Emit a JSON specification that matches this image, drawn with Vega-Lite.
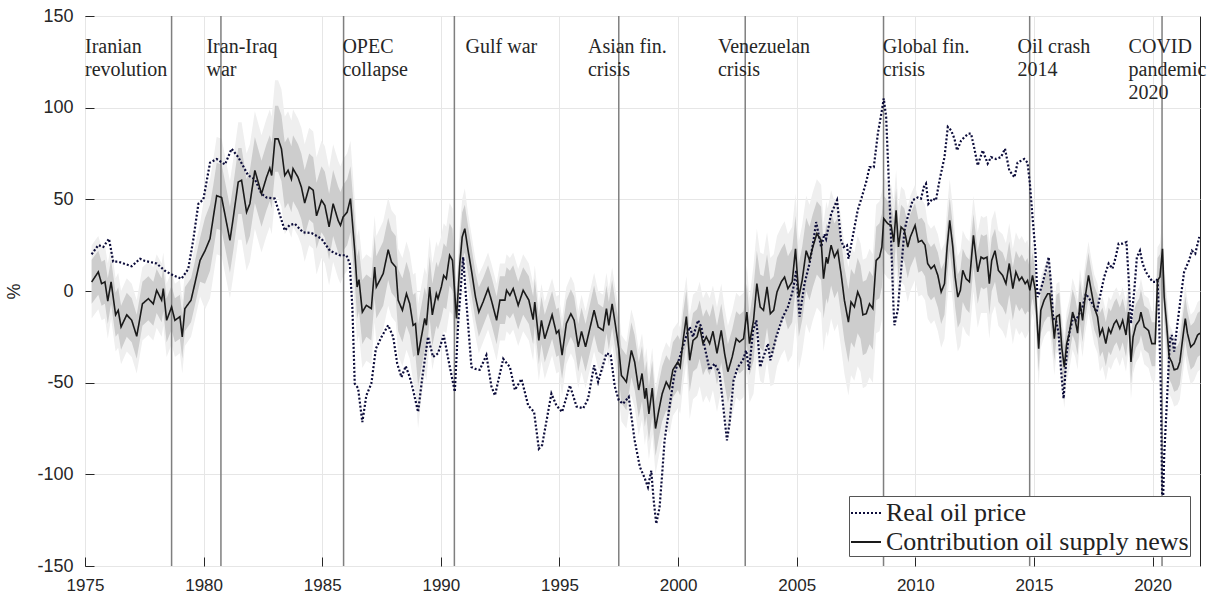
{
"$schema": "https://vega.github.io/schema/vega-lite/v6.json",
"width": 1115, "height": 550,
"autosize": {"type": "none"},
"padding": {"left": 85, "top": 16, "right": 18, "bottom": 28},
"background": "white",
"config": {
 "view": {"stroke": "#262626", "strokeWidth": 1},
 "axis": {"labelFont": "Liberation Sans", "labelFontSize": 18, "labelColor": "#262626", "titleFont": "Liberation Sans", "titleFontSize": 18, "titleFontWeight": "normal", "titleColor": "#262626", "grid": true, "gridColor": "#e6e6e6", "gridWidth": 1, "domain": false, "tickColor": "#262626", "tickSize": -9, "tickWidth": 1},
 "axisX": {"tickCount": 10, "format": "d", "labelPadding": 20, "labelFontSize": 17, "labelFlush": false},
 "axisY": {"tickCount": 6, "labelPadding": 21, "titleX": -62, "titlePadding": 0, "labelExpr": "'' + datum.value"}
},
"datasets": {
"events": [{"t":1978.65},{"t":1980.73},{"t":1985.9},{"t":1990.57},{"t":1997.5},{"t":2002.83},{"t":2008.66},{"t":2014.82},{"t":2020.4}],
"labels": [{"lx":1975.0,"txt":"Iranian\nrevolution"},{"lx":1980.12,"txt":"Iran-Iraq\nwar"},{"lx":1985.85,"txt":"OPEC\ncollapse"},{"lx":1991.04,"txt":"Gulf war"},{"lx":1996.2,"txt":"Asian fin.\ncrisis"},{"lx":2001.68,"txt":"Venezuelan\ncrisis"},{"lx":2008.63,"txt":"Global fin.\ncrisis"},{"lx":2014.31,"txt":"Oil crash\n2014"},{"lx":2018.99,"txt":"COVID\npandemic\n2020"}],
"price": [
{"t":1975.28,"p":20},{"t":1975.56,"p":25},{"t":1975.77,"p":24},{"t":1976.01,"p":28.5},{"t":1976.19,"p":16},{"t":1976.4,"p":16},{"t":1976.97,"p":13.5},{"t":1977.32,"p":17.6},{"t":1977.53,"p":16.4},{"t":1978.02,"p":15},{"t":1978.37,"p":11},{"t":1978.72,"p":8.5},{"t":1979.07,"p":6.7},{"t":1979.35,"p":12},{"t":1979.56,"p":27.6},{"t":1979.78,"p":47.6},{"t":1979.99,"p":50},{"t":1980.27,"p":70},{"t":1980.55,"p":72},{"t":1980.9,"p":69},{"t":1981.18,"p":77.6},{"t":1981.46,"p":73},{"t":1981.88,"p":63},{"t":1982.16,"p":61},{"t":1982.44,"p":53},{"t":1982.65,"p":51},{"t":1983.0,"p":50.4},
{"t":1983.42,"p":33},{"t":1983.63,"p":36},{"t":1983.84,"p":36.7},{"t":1984.19,"p":32},{"t":1984.55,"p":31.6},{"t":1984.97,"p":28.5},{"t":1985.32,"p":22},{"t":1985.74,"p":19.5},{"t":1986.02,"p":19.5},{"t":1986.16,"p":15},{"t":1986.27,"p":-8.7},{"t":1986.37,"p":-50.5},{"t":1986.51,"p":-53},{"t":1986.69,"p":-71.5},{"t":1986.86,"p":-57},{"t":1987.07,"p":-50.5},{"t":1987.26,"p":-31.5},{"t":1987.5,"p":-25},{"t":1987.78,"p":-18.7},{"t":1987.99,"p":-25},{"t":1988.16,"p":-39.6},{"t":1988.34,"p":-47},{"t":1988.52,"p":-41},{"t":1988.69,"p":-47},{"t":1988.83,"p":-54},{"t":1989.04,"p":-66},{"t":1989.22,"p":-47},{"t":1989.46,"p":-25},{"t":1989.67,"p":-36},{"t":1989.88,"p":-34},{"t":1990.12,"p":-24},{"t":1990.35,"p":-39.6},{"t":1990.59,"p":-55},
{"t":1990.73,"p":-17.8},{"t":1990.94,"p":18.5},{"t":1991.08,"p":-7},{"t":1991.29,"p":-41.5},{"t":1991.43,"p":-42.4},{"t":1991.64,"p":-43},{"t":1991.92,"p":-35},{"t":1992.13,"p":-52},{"t":1992.28,"p":-57},{"t":1992.63,"p":-37},{"t":1992.91,"p":-41.5},{"t":1993.12,"p":-54},{"t":1993.4,"p":-48},{"t":1993.68,"p":-62.4},{"t":1993.93,"p":-66},{"t":1994.13,"p":-86},{"t":1994.27,"p":-84},{"t":1994.66,"p":-56},{"t":1994.87,"p":-62.4},{"t":1995.11,"p":-66},{"t":1995.44,"p":-51.5},{"t":1995.72,"p":-63},{"t":1996.0,"p":-64},{"t":1996.21,"p":-58.7},{"t":1996.46,"p":-40.5},{"t":1996.63,"p":-49.6},{"t":1996.98,"p":-34},{"t":1997.16,"p":-35},{"t":1997.33,"p":-52},{"t":1997.5,"p":-59.6},{"t":1997.68,"p":-61.5},{"t":1997.92,"p":-57.8},{"t":1998.17,"p":-81.5},{"t":1998.39,"p":-96},{"t":1998.59,"p":-102},
{"t":1998.73,"p":-107},{"t":1998.87,"p":-98},{"t":1998.97,"p":-114},{"t":1999.08,"p":-127},{"t":1999.22,"p":-118},{"t":1999.33,"p":-99.6},{"t":1999.43,"p":-81.5},{"t":1999.64,"p":-63},{"t":1999.85,"p":-45},{"t":2000.07,"p":-36},{"t":2000.28,"p":-27},{"t":2000.49,"p":-19.6},{"t":2000.63,"p":-25},{"t":2000.84,"p":-16},{"t":2000.98,"p":-19.6},{"t":2001.12,"p":-30.5},{"t":2001.33,"p":-43},{"t":2001.54,"p":-39.6},{"t":2001.75,"p":-45},{"t":2001.92,"p":-65},{"t":2002.06,"p":-81.5},{"t":2002.17,"p":-72},{"t":2002.34,"p":-48.7},{"t":2002.52,"p":-41.5},{"t":2002.73,"p":-37.8},{"t":2002.87,"p":-32.4},{"t":2002.99,"p":-43},{"t":2003.16,"p":-21.5},{"t":2003.3,"p":-16},{"t":2003.46,"p":-41.5},{"t":2003.65,"p":-34},{"t":2003.79,"p":-28.7},{"t":2003.89,"p":-37.8},{"t":2004.14,"p":-25},{"t":2004.42,"p":-14},{"t":2004.63,"p":-8.7},{"t":2004.84,"p":0.4},{"t":2004.98,"p":11.3},{"t":2005.12,"p":-14},{"t":2005.33,"p":4},{"t":2005.54,"p":15},{"t":2005.71,"p":27.6},{"t":2005.82,"p":37.6},{"t":2006.03,"p":24},{"t":2006.17,"p":31},
{"t":2006.24,"p":28.5},{"t":2006.45,"p":42},{"t":2006.7,"p":49.5},{"t":2006.87,"p":27.6},{"t":2006.98,"p":24},{"t":2007.12,"p":25},{"t":2007.18,"p":17.6},{"t":2007.36,"p":29.5},{"t":2007.57,"p":44},{"t":2007.74,"p":51},{"t":2007.93,"p":59.5},{"t":2008.07,"p":67.6},{"t":2008.25,"p":67.6},{"t":2008.42,"p":85.8},{"t":2008.59,"p":98.5},{"t":2008.67,"p":105},{"t":2008.77,"p":95},{"t":2008.87,"p":64},{"t":2008.98,"p":27.6},{"t":2009.08,"p":-8.7},{"t":2009.12,"p":-18.7},{"t":2009.26,"p":-10.5},{"t":2009.4,"p":11.3},{"t":2009.54,"p":33},{"t":2009.68,"p":40.4},{"t":2009.89,"p":49.5},{"t":2010.1,"p":51},{"t":2010.24,"p":50.4},{"t":2010.36,"p":56.7},{"t":2010.45,"p":58.5},{"t":2010.55,"p":47.6},{"t":2010.73,"p":50.4},{"t":2010.87,"p":49.5},{"t":2011.02,"p":60.4},{"t":2011.23,"p":73},{"t":2011.37,"p":89.5},{"t":2011.51,"p":87.6},{"t":2011.65,"p":83},{"t":2011.76,"p":76.7},{"t":2011.93,"p":82},{"t":2012.07,"p":84},{"t":2012.24,"p":85.8},{"t":2012.35,"p":85.8},{"t":2012.49,"p":77.6},{"t":2012.63,"p":68.5},{"t":2012.84,"p":76.7},{"t":2013.05,"p":69.5},{"t":2013.19,"p":73},{"t":2013.4,"p":72},{"t":2013.61,"p":73},{"t":2013.78,"p":77.6},{"t":2013.96,"p":65.8},{"t":2014.18,"p":62},
{"t":2014.31,"p":70},{"t":2014.59,"p":72},{"t":2014.73,"p":70},{"t":2014.83,"p":58.5},{"t":2014.94,"p":40.4},{"t":2015.06,"p":22},{"t":2015.15,"p":-3.3},{"t":2015.25,"p":-0.5},{"t":2015.36,"p":4},{"t":2015.5,"p":11.3},{"t":2015.62,"p":18.5},{"t":2015.72,"p":4},{"t":2015.81,"p":-15},{"t":2015.93,"p":-16},{"t":2016.04,"p":-23},{"t":2016.14,"p":-43},{"t":2016.25,"p":-58.7},{"t":2016.38,"p":-34},{"t":2016.49,"p":-23},{"t":2016.66,"p":-14},{"t":2016.77,"p":-16},{"t":2016.91,"p":-12.4},{"t":2017.05,"p":-8.7},{"t":2017.19,"p":-1.5},{"t":2017.33,"p":-4.2},{"t":2017.47,"p":-7},{"t":2017.64,"p":-11.5},{"t":2017.78,"p":-3.3},{"t":2017.96,"p":7.6},{"t":2018.15,"p":15},{"t":2018.31,"p":12.2},{"t":2018.43,"p":17.6},{"t":2018.57,"p":25.8},{"t":2018.74,"p":25.8},{"t":2018.9,"p":26.7},{"t":2018.99,"p":7.6},{"t":2019.09,"p":-17.8},{"t":2019.23,"p":0.4},{"t":2019.34,"p":18.5},{"t":2019.47,"p":22},{"t":2019.58,"p":15},{"t":2019.72,"p":10.4},{"t":2019.86,"p":7.6},{"t":2020.0,"p":5},{"t":2020.14,"p":5},{"t":2020.21,"p":6.7},{"t":2020.28,"p":-17.8},{"t":2020.35,"p":-54},{"t":2020.42,"p":-128},{"t":2020.49,"p":-90},{"t":2020.63,"p":-54},{"t":2020.73,"p":-27},{"t":2020.81,"p":-24},{"t":2020.91,"p":-33},{"t":2021.05,"p":-17.8},{"t":2021.19,"p":-3.3},{"t":2021.33,"p":10.4},{"t":2021.54,"p":16.7},{"t":2021.66,"p":22},{"t":2021.8,"p":20.4},{"t":2021.97,"p":29.5}
],
"contrib": [
{"t":1975.28,"c":4.9,"l9":-15,"l6":-7,"h6":17,"h9":25},
{"t":1975.56,"c":10.4,"l9":-10,"l6":-2,"h6":22,"h9":30},
{"t":1975.7,"c":4,"l9":-16,"l6":-8,"h6":16,"h9":24},
{"t":1975.84,"c":5,"l9":-15,"l6":-7,"h6":17,"h9":25},
{"t":1975.96,"c":-5.5,"l9":-26,"l6":-18,"h6":7,"h9":15},
{"t":1976.1,"c":5,"l9":-15,"l6":-7,"h6":17,"h9":25},
{"t":1976.29,"c":-13,"l9":-33,"l6":-25,"h6":-1,"h9":7},
{"t":1976.4,"c":-10.5,"l9":-31,"l6":-23,"h6":2,"h9":10},
{"t":1976.52,"c":-19.6,"l9":-40,"l6":-32,"h6":-8,"h9":0},
{"t":1976.76,"c":-13,"l9":-33,"l6":-25,"h6":-1,"h9":7},
{"t":1976.97,"c":-16,"l9":-36,"l6":-28,"h6":-4,"h9":4},
{"t":1977.18,"c":-24.7,"l9":-45,"l6":-37,"h6":-13,"h9":-5},
{"t":1977.42,"c":-7,"l9":-27,"l6":-19,"h6":5,"h9":13},
{"t":1977.67,"c":-4.2,"l9":-24,"l6":-16,"h6":8,"h9":16},
{"t":1977.88,"c":-7,"l9":-27,"l6":-19,"h6":5,"h9":13},
{"t":1978.02,"c":0.4,"l9":-20,"l6":-12,"h6":12,"h9":20},
{"t":1978.23,"c":-5,"l9":-25,"l6":-17,"h6":7,"h9":15},
{"t":1978.3,"c":1.3,"l9":-19,"l6":-11,"h6":13,"h9":21},
{"t":1978.44,"c":-16,"l9":-36,"l6":-28,"h6":-4,"h9":4},
{"t":1978.65,"c":-8.7,"l9":-29,"l6":-21,"h6":3,"h9":11},
{"t":1978.79,"c":-16,"l9":-36,"l6":-28,"h6":-4,"h9":4},
{"t":1979.0,"c":-14,"l9":-34,"l6":-26,"h6":-2,"h9":6},
{"t":1979.1,"c":-25,"l9":-45,"l6":-37,"h6":-13,"h9":-5},
{"t":1979.21,"c":-9.6,"l9":-30,"l6":-22,"h6":2,"h9":10},
{"t":1979.47,"c":-5,"l9":-25,"l6":-17,"h6":7,"h9":15},
{"t":1979.63,"c":4,"l9":-16,"l6":-8,"h6":16,"h9":24},
{"t":1979.85,"c":16.7,"l9":-3,"l6":5,"h6":29,"h9":37},
{"t":1980.06,"c":22,"l9":-10,"l6":4,"h6":40,"h9":54},
{"t":1980.27,"c":28.5,"l9":-4,"l6":11,"h6":47,"h9":61},
{"t":1980.41,"c":40.4,"l9":8,"l6":22,"h6":58,"h9":72},
{"t":1980.55,"c":52,"l9":20,"l6":34,"h6":70,"h9":84},
{"t":1980.76,"c":51,"l9":19,"l6":33,"h6":69,"h9":83},
{"t":1981.11,"c":27.6,"l9":-4,"l6":10,"h6":46,"h9":60},
{"t":1981.25,"c":40,"l9":8,"l6":22,"h6":58,"h9":72},
{"t":1981.46,"c":59.5,"l9":28,"l6":42,"h6":78,"h9":92},
{"t":1981.6,"c":60.4,"l9":28,"l6":42,"h6":78,"h9":92},
{"t":1981.81,"c":43,"l9":11,"l6":25,"h6":61,"h9":75},
{"t":1981.95,"c":47.6,"l9":16,"l6":30,"h6":66,"h9":80},
{"t":1982.16,"c":65.8,"l9":34,"l6":48,"h6":84,"h9":98},
{"t":1982.44,"c":53,"l9":21,"l6":35,"h6":71,"h9":85},
{"t":1982.65,"c":62,"l9":30,"l6":44,"h6":80,"h9":94},
{"t":1982.79,"c":67,"l9":35,"l6":49,"h6":85,"h9":99},
{"t":1982.87,"c":63,"l9":31,"l6":45,"h6":81,"h9":95},
{"t":1983.01,"c":83,"l9":51,"l6":65,"h6":101,"h9":115},
{"t":1983.14,"c":83,"l9":51,"l6":65,"h6":101,"h9":115},
{"t":1983.28,"c":77.6,"l9":46,"l6":60,"h6":96,"h9":110},
{"t":1983.42,"c":63,"l9":31,"l6":45,"h6":81,"h9":95},
{"t":1983.56,"c":65.8,"l9":34,"l6":48,"h6":84,"h9":98},
{"t":1983.7,"c":61,"l9":29,"l6":43,"h6":79,"h9":93},
{"t":1983.77,"c":66.7,"l9":35,"l6":49,"h6":85,"h9":99},
{"t":1983.98,"c":62,"l9":30,"l6":44,"h6":80,"h9":94},
{"t":1984.12,"c":56.7,"l9":25,"l6":39,"h6":75,"h9":89},
{"t":1984.26,"c":48,"l9":16,"l6":30,"h6":66,"h9":80},
{"t":1984.45,"c":56.7,"l9":25,"l6":39,"h6":75,"h9":89},
{"t":1984.62,"c":55,"l9":23,"l6":37,"h6":73,"h9":87},
{"t":1984.76,"c":41,"l9":9,"l6":23,"h6":59,"h9":73},
{"t":1984.97,"c":49.5,"l9":18,"l6":32,"h6":68,"h9":82},
{"t":1985.11,"c":46.7,"l9":15,"l6":29,"h6":65,"h9":79},
{"t":1985.29,"c":35,"l9":3,"l6":17,"h6":53,"h9":67},
{"t":1985.46,"c":47.6,"l9":16,"l6":30,"h6":66,"h9":80},
{"t":1985.67,"c":38.5,"l9":7,"l6":21,"h6":57,"h9":71},
{"t":1985.77,"c":35.8,"l9":4,"l6":18,"h6":54,"h9":68},
{"t":1985.88,"c":40.4,"l9":8,"l6":22,"h6":58,"h9":72},
{"t":1986.05,"c":43,"l9":11,"l6":25,"h6":61,"h9":75},
{"t":1986.19,"c":50.4,"l9":18,"l6":32,"h6":68,"h9":82},
{"t":1986.37,"c":22,"l9":-8,"l6":5,"h6":39,"h9":50},
{"t":1986.47,"c":2.2,"l9":-28,"l6":-15,"h6":19,"h9":30},
{"t":1986.55,"c":6.2,"l9":-24,"l6":-11,"h6":23,"h9":34},
{"t":1986.69,"c":-11.5,"l9":-42,"l6":-29,"h6":6,"h9":17},
{"t":1986.86,"c":-7.8,"l9":-38,"l6":-25,"h6":9,"h9":20},
{"t":1987.07,"c":-9.6,"l9":-40,"l6":-27,"h6":7,"h9":18},
{"t":1987.21,"c":13,"l9":-17,"l6":-4,"h6":30,"h9":41},
{"t":1987.28,"c":2.2,"l9":-28,"l6":-15,"h6":19,"h9":30},
{"t":1987.57,"c":9.5,"l9":-21,"l6":-8,"h6":27,"h9":38},
{"t":1987.78,"c":22.5,"l9":-8,"l6":6,"h6":40,"h9":51},
{"t":1987.92,"c":15.8,"l9":-14,"l6":-1,"h6":33,"h9":44},
{"t":1988.1,"c":13,"l9":-17,"l6":-4,"h6":30,"h9":41},
{"t":1988.2,"c":-5,"l9":-35,"l6":-22,"h6":12,"h9":23},
{"t":1988.38,"c":-10.5,"l9":-41,"l6":-28,"h6":7,"h9":18},
{"t":1988.55,"c":-1.5,"l9":-32,"l6":-19,"h6":16,"h9":27},
{"t":1988.69,"c":-7,"l9":-37,"l6":-24,"h6":10,"h9":21},
{"t":1988.83,"c":-18.7,"l9":-49,"l6":-36,"h6":-2,"h9":9},
{"t":1988.93,"c":-17.8,"l9":-55,"l6":-35,"h6":-1,"h9":10},
{"t":1989.04,"c":-35,"l9":-75,"l6":-52,"h6":-18,"h9":-7},
{"t":1989.18,"c":-25,"l9":-58,"l6":-42,"h6":-8,"h9":3},
{"t":1989.32,"c":-15,"l9":-45,"l6":-32,"h6":2,"h9":13},
{"t":1989.39,"c":-18.7,"l9":-49,"l6":-36,"h6":-2,"h9":9},
{"t":1989.53,"c":2.2,"l9":-28,"l6":-15,"h6":19,"h9":30},
{"t":1989.64,"c":-13,"l9":-43,"l6":-30,"h6":4,"h9":15},
{"t":1989.81,"c":-1.5,"l9":-32,"l6":-19,"h6":16,"h9":27},
{"t":1989.88,"c":-4.2,"l9":-34,"l6":-21,"h6":13,"h9":24},
{"t":1990.02,"c":2.2,"l9":-28,"l6":-15,"h6":19,"h9":30},
{"t":1990.12,"c":8.5,"l9":-22,"l6":-9,"h6":26,"h9":37},
{"t":1990.23,"c":6.7,"l9":-23,"l6":-10,"h6":24,"h9":35},
{"t":1990.37,"c":19.5,"l9":-11,"l6":3,"h6":37,"h9":48},
{"t":1990.49,"c":16.7,"l9":-13,"l6":0,"h6":34,"h9":45},
{"t":1990.66,"c":-15,"l9":-37,"l6":-28,"h6":-2,"h9":5},
{"t":1990.8,"c":15,"l9":-7,"l6":2,"h6":28,"h9":35},
{"t":1990.9,"c":29.5,"l9":8,"l6":17,"h6":43,"h9":50},
{"t":1991.01,"c":34,"l9":12,"l6":21,"h6":47,"h9":56},
{"t":1991.15,"c":22,"l9":0,"l6":9,"h6":35,"h9":42},
{"t":1991.29,"c":11.3,"l9":-11,"l6":-2,"h6":24,"h9":31},
{"t":1991.46,"c":-3.3,"l9":-25,"l6":-16,"h6":10,"h9":17},
{"t":1991.6,"c":-11.5,"l9":-34,"l6":-25,"h6":2,"h9":9},
{"t":1991.78,"c":-6,"l9":-28,"l6":-19,"h6":7,"h9":14},
{"t":1991.99,"c":1.3,"l9":-21,"l6":-12,"h6":14,"h9":21},
{"t":1992.13,"c":-5,"l9":-27,"l6":-18,"h6":8,"h9":15},
{"t":1992.35,"c":-16,"l9":-38,"l6":-29,"h6":-3,"h9":4},
{"t":1992.49,"c":-5,"l9":-27,"l6":-18,"h6":8,"h9":15},
{"t":1992.7,"c":-5,"l9":-27,"l6":-18,"h6":8,"h9":15},
{"t":1992.77,"c":0.4,"l9":-22,"l6":-13,"h6":13,"h9":20},
{"t":1992.91,"c":-2.4,"l9":-24,"l6":-15,"h6":11,"h9":18},
{"t":1993.05,"c":1.3,"l9":-21,"l6":-12,"h6":14,"h9":21},
{"t":1993.26,"c":-7.8,"l9":-30,"l6":-21,"h6":5,"h9":12},
{"t":1993.47,"c":0.4,"l9":-22,"l6":-13,"h6":13,"h9":20},
{"t":1993.71,"c":-5,"l9":-27,"l6":-18,"h6":8,"h9":15},
{"t":1993.89,"c":-15.6,"l9":-38,"l6":-29,"h6":-3,"h9":4},
{"t":1993.96,"c":-6,"l9":-28,"l6":-19,"h6":7,"h9":14},
{"t":1994.13,"c":-27,"l9":-49,"l6":-40,"h6":-14,"h9":-7},
{"t":1994.24,"c":-16,"l9":-38,"l6":-29,"h6":-3,"h9":4},
{"t":1994.38,"c":-26,"l9":-48,"l6":-39,"h6":-13,"h9":-6},
{"t":1994.69,"c":-13,"l9":-35,"l6":-26,"h6":0,"h9":7},
{"t":1994.87,"c":-23,"l9":-45,"l6":-36,"h6":-10,"h9":-3},
{"t":1994.97,"c":-21.5,"l9":-44,"l6":-35,"h6":-9,"h9":-2},
{"t":1995.11,"c":-35,"l9":-57,"l6":-48,"h6":-22,"h9":-15},
{"t":1995.29,"c":-17.8,"l9":-40,"l6":-31,"h6":-5,"h9":2},
{"t":1995.48,"c":-12.4,"l9":-34,"l6":-25,"h6":1,"h9":8},
{"t":1995.62,"c":-16,"l9":-38,"l6":-29,"h6":-3,"h9":4},
{"t":1995.79,"c":-30.5,"l9":-53,"l6":-44,"h6":-18,"h9":-11},
{"t":1995.93,"c":-22,"l9":-44,"l6":-35,"h6":-9,"h9":-2},
{"t":1996.1,"c":-30.5,"l9":-53,"l6":-44,"h6":-18,"h9":-11},
{"t":1996.46,"c":-10.5,"l9":-33,"l6":-24,"h6":3,"h9":10},
{"t":1996.63,"c":-19.6,"l9":-42,"l6":-33,"h6":-7,"h9":0},
{"t":1996.84,"c":-21.5,"l9":-44,"l6":-35,"h6":-9,"h9":-2},
{"t":1996.98,"c":-9.6,"l9":-32,"l6":-23,"h6":3,"h9":10},
{"t":1997.08,"c":-18.7,"l9":-41,"l6":-32,"h6":-6,"h9":1},
{"t":1997.22,"c":-7,"l9":-29,"l6":-20,"h6":6,"h9":13},
{"t":1997.36,"c":-18.7,"l9":-41,"l6":-32,"h6":-6,"h9":1},
{"t":1997.5,"c":-31.5,"l9":-57,"l6":-47,"h6":-17,"h9":-10},
{"t":1997.61,"c":-46,"l9":-71,"l6":-61,"h6":-31,"h9":-24},
{"t":1997.82,"c":-49.6,"l9":-75,"l6":-65,"h6":-35,"h9":-28},
{"t":1998.03,"c":-32.4,"l9":-57,"l6":-47,"h6":-17,"h9":-10},
{"t":1998.17,"c":-38.7,"l9":-64,"l6":-54,"h6":-24,"h9":-17},
{"t":1998.34,"c":-54,"l9":-79,"l6":-69,"h6":-39,"h9":-32},
{"t":1998.48,"c":-45,"l9":-70,"l6":-60,"h6":-30,"h9":-23},
{"t":1998.6,"c":-58.7,"l9":-84,"l6":-74,"h6":-44,"h9":-37},
{"t":1998.66,"c":-53,"l9":-78,"l6":-68,"h6":-38,"h9":-31},
{"t":1998.77,"c":-67,"l9":-92,"l6":-82,"h6":-52,"h9":-45},
{"t":1998.91,"c":-53,"l9":-78,"l6":-68,"h6":-38,"h9":-31},
{"t":1999.05,"c":-75,"l9":-100,"l6":-90,"h6":-60,"h9":-53},
{"t":1999.19,"c":-65,"l9":-90,"l6":-80,"h6":-50,"h9":-43},
{"t":1999.33,"c":-56,"l9":-81,"l6":-71,"h6":-41,"h9":-34},
{"t":1999.5,"c":-49.6,"l9":-75,"l6":-65,"h6":-35,"h9":-28},
{"t":1999.64,"c":-53,"l9":-78,"l6":-68,"h6":-38,"h9":-31},
{"t":1999.78,"c":-43,"l9":-68,"l6":-58,"h6":-28,"h9":-21},
{"t":1999.99,"c":-38.7,"l9":-64,"l6":-54,"h6":-24,"h9":-17},
{"t":2000.09,"c":-41.5,"l9":-67,"l6":-57,"h6":-27,"h9":-20},
{"t":2000.21,"c":-27,"l9":-52,"l6":-42,"h6":-12,"h9":-5},
{"t":2000.35,"c":-14,"l9":-39,"l6":-29,"h6":1,"h9":8},
{"t":2000.49,"c":-37.8,"l9":-70,"l6":-55,"h6":-23,"h9":-13},
{"t":2000.63,"c":-27,"l9":-59,"l6":-44,"h6":-12,"h9":-2},
{"t":2000.8,"c":-25,"l9":-57,"l6":-42,"h6":-10,"h9":0},
{"t":2000.91,"c":-19.6,"l9":-52,"l6":-37,"h6":-5,"h9":5},
{"t":2001.05,"c":-28.7,"l9":-61,"l6":-46,"h6":-14,"h9":-4},
{"t":2001.19,"c":-25,"l9":-57,"l6":-42,"h6":-10,"h9":0},
{"t":2001.33,"c":-28.7,"l9":-61,"l6":-46,"h6":-14,"h9":-4},
{"t":2001.47,"c":-22,"l9":-54,"l6":-39,"h6":-7,"h9":3},
{"t":2001.64,"c":-34,"l9":-66,"l6":-51,"h6":-19,"h9":-9},
{"t":2001.82,"c":-21.5,"l9":-54,"l6":-39,"h6":-7,"h9":4},
{"t":2001.96,"c":-34,"l9":-66,"l6":-51,"h6":-19,"h9":-9},
{"t":2002.1,"c":-44,"l9":-76,"l6":-61,"h6":-29,"h9":-19},
{"t":2002.28,"c":-36,"l9":-68,"l6":-53,"h6":-21,"h9":-11},
{"t":2002.45,"c":-26,"l9":-58,"l6":-43,"h6":-11,"h9":-1},
{"t":2002.59,"c":-27.8,"l9":-60,"l6":-45,"h6":-13,"h9":-3},
{"t":2002.76,"c":-26,"l9":-58,"l6":-43,"h6":-11,"h9":-1},
{"t":2002.9,"c":-11.5,"l9":-44,"l6":-29,"h6":4,"h9":14},
{"t":2003.01,"c":-28.7,"l9":-61,"l6":-46,"h6":-14,"h9":-4},
{"t":2003.18,"c":-16,"l9":-56,"l6":-38,"h6":2,"h9":14},
{"t":2003.32,"c":4,"l9":-36,"l6":-18,"h6":22,"h9":34},
{"t":2003.46,"c":-8.7,"l9":-49,"l6":-31,"h6":9,"h9":21},
{"t":2003.6,"c":-10.5,"l9":-51,"l6":-33,"h6":8,"h9":20},
{"t":2003.75,"c":2.2,"l9":-38,"l6":-20,"h6":20,"h9":32},
{"t":2003.89,"c":-12.4,"l9":-52,"l6":-34,"h6":6,"h9":18},
{"t":2004.03,"c":-10.5,"l9":-51,"l6":-33,"h6":8,"h9":20},
{"t":2004.17,"c":-0.5,"l9":-41,"l6":-23,"h6":18,"h9":30},
{"t":2004.35,"c":5,"l9":-35,"l6":-17,"h6":23,"h9":35},
{"t":2004.49,"c":7.6,"l9":-32,"l6":-14,"h6":26,"h9":38},
{"t":2004.63,"c":1.3,"l9":-39,"l6":-21,"h6":19,"h9":31},
{"t":2004.81,"c":5,"l9":-35,"l6":-17,"h6":23,"h9":35},
{"t":2004.95,"c":23,"l9":-17,"l6":1,"h6":41,"h9":53},
{"t":2005.09,"c":-3.3,"l9":-43,"l6":-25,"h6":15,"h9":27},
{"t":2005.23,"c":5.8,"l9":-34,"l6":-16,"h6":24,"h9":36},
{"t":2005.4,"c":22,"l9":-18,"l6":0,"h6":40,"h9":52},
{"t":2005.54,"c":16.7,"l9":-23,"l6":-5,"h6":35,"h9":47},
{"t":2005.68,"c":24,"l9":-16,"l6":2,"h6":42,"h9":54},
{"t":2005.85,"c":31.3,"l9":-9,"l6":9,"h6":49,"h9":61},
{"t":2006.03,"c":27.6,"l9":-12,"l6":6,"h6":46,"h9":58},
{"t":2006.13,"c":6.7,"l9":-33,"l6":-15,"h6":25,"h9":37},
{"t":2006.25,"c":18.5,"l9":-22,"l6":-4,"h6":37,"h9":49},
{"t":2006.31,"c":15,"l9":-25,"l6":-7,"h6":33,"h9":45},
{"t":2006.45,"c":25,"l9":-15,"l6":3,"h6":43,"h9":55},
{"t":2006.59,"c":18.5,"l9":-22,"l6":-4,"h6":37,"h9":49},
{"t":2006.73,"c":22,"l9":-18,"l6":0,"h6":40,"h9":52},
{"t":2006.87,"c":9.5,"l9":-31,"l6":-13,"h6":28,"h9":40},
{"t":2007.01,"c":-5,"l9":-45,"l6":-27,"h6":13,"h9":25},
{"t":2007.18,"c":-17,"l9":-57,"l6":-39,"h6":1,"h9":13},
{"t":2007.29,"c":-6,"l9":-46,"l6":-28,"h6":12,"h9":24},
{"t":2007.43,"c":-8.7,"l9":-49,"l6":-31,"h6":9,"h9":21},
{"t":2007.57,"c":-0.5,"l9":-41,"l6":-23,"h6":18,"h9":30},
{"t":2007.69,"c":-4.2,"l9":-44,"l6":-26,"h6":14,"h9":26},
{"t":2007.79,"c":-13,"l9":-53,"l6":-35,"h6":5,"h9":17},
{"t":2007.93,"c":-12.4,"l9":-52,"l6":-34,"h6":6,"h9":18},
{"t":2008.07,"c":-7,"l9":-47,"l6":-29,"h6":11,"h9":23},
{"t":2008.21,"c":-9.6,"l9":-50,"l6":-32,"h6":8,"h9":20},
{"t":2008.35,"c":16.7,"l9":-23,"l6":-5,"h6":35,"h9":47},
{"t":2008.49,"c":18.5,"l9":-22,"l6":-4,"h6":37,"h9":49},
{"t":2008.59,"c":24,"l9":-16,"l6":2,"h6":42,"h9":54},
{"t":2008.67,"c":39.5,"l9":10,"l6":23,"h6":52,"h9":62},
{"t":2008.84,"c":36.7,"l9":7,"l6":20,"h6":49,"h9":59},
{"t":2008.98,"c":35.8,"l9":6,"l6":19,"h6":48,"h9":58},
{"t":2009.09,"c":26.7,"l9":-3,"l6":10,"h6":39,"h9":49},
{"t":2009.19,"c":44,"l9":14,"l6":27,"h6":56,"h9":66},
{"t":2009.29,"c":24,"l9":-6,"l6":7,"h6":36,"h9":46},
{"t":2009.4,"c":34.9,"l9":5,"l6":18,"h6":47,"h9":57},
{"t":2009.54,"c":33,"l9":3,"l6":16,"h6":45,"h9":55},
{"t":2009.68,"c":24,"l9":-6,"l6":7,"h6":36,"h9":46},
{"t":2009.79,"c":29.5,"l9":0,"l6":13,"h6":42,"h9":52},
{"t":2009.99,"c":35.8,"l9":6,"l6":19,"h6":48,"h9":58},
{"t":2010.13,"c":26.7,"l9":-3,"l6":10,"h6":39,"h9":49},
{"t":2010.27,"c":27.6,"l9":-2,"l6":11,"h6":40,"h9":50},
{"t":2010.41,"c":25,"l9":-5,"l6":8,"h6":37,"h9":47},
{"t":2010.52,"c":15,"l9":-15,"l6":-2,"h6":27,"h9":37},
{"t":2010.66,"c":12.2,"l9":-18,"l6":-5,"h6":24,"h9":34},
{"t":2010.8,"c":14,"l9":-16,"l6":-3,"h6":26,"h9":36},
{"t":2010.95,"c":8.5,"l9":-22,"l6":-9,"h6":21,"h9":31},
{"t":2011.09,"c":-0.5,"l9":-31,"l6":-18,"h6":12,"h9":22},
{"t":2011.23,"c":4,"l9":-26,"l6":-13,"h6":16,"h9":26},
{"t":2011.34,"c":24,"l9":-6,"l6":7,"h6":36,"h9":46},
{"t":2011.45,"c":38.5,"l9":9,"l6":22,"h6":51,"h9":61},
{"t":2011.58,"c":24,"l9":-6,"l6":7,"h6":36,"h9":46},
{"t":2011.68,"c":7.6,"l9":-22,"l6":-9,"h6":20,"h9":30},
{"t":2011.79,"c":-3.3,"l9":-33,"l6":-20,"h6":9,"h9":19},
{"t":2011.9,"c":0.4,"l9":-30,"l6":-17,"h6":12,"h9":22},
{"t":2012.0,"c":11.3,"l9":-19,"l6":-6,"h6":23,"h9":33},
{"t":2012.14,"c":6.7,"l9":-23,"l6":-10,"h6":19,"h9":29},
{"t":2012.28,"c":5,"l9":-25,"l6":-12,"h6":17,"h9":27},
{"t":2012.45,"c":30.4,"l9":0,"l6":13,"h6":42,"h9":52},
{"t":2012.63,"c":10.4,"l9":-20,"l6":-7,"h6":22,"h9":32},
{"t":2012.77,"c":18.5,"l9":-12,"l6":2,"h6":31,"h9":41},
{"t":2012.88,"c":17.6,"l9":-12,"l6":1,"h6":30,"h9":40},
{"t":2013.02,"c":18.5,"l9":-12,"l6":2,"h6":31,"h9":41},
{"t":2013.12,"c":4,"l9":-26,"l6":-13,"h6":16,"h9":26},
{"t":2013.22,"c":16.7,"l9":-13,"l6":0,"h6":29,"h9":39},
{"t":2013.36,"c":22,"l9":-8,"l6":5,"h6":34,"h9":44},
{"t":2013.5,"c":11.3,"l9":-19,"l6":-6,"h6":23,"h9":33},
{"t":2013.68,"c":8.5,"l9":-22,"l6":-9,"h6":21,"h9":31},
{"t":2013.82,"c":4,"l9":-26,"l6":-13,"h6":16,"h9":26},
{"t":2013.96,"c":15,"l9":-15,"l6":-2,"h6":27,"h9":37},
{"t":2014.11,"c":1.3,"l9":-29,"l6":-16,"h6":13,"h9":23},
{"t":2014.24,"c":10.4,"l9":-20,"l6":-7,"h6":22,"h9":32},
{"t":2014.38,"c":5.8,"l9":-24,"l6":-11,"h6":18,"h9":28},
{"t":2014.49,"c":7.6,"l9":-22,"l6":-9,"h6":20,"h9":30},
{"t":2014.63,"c":4,"l9":-26,"l6":-13,"h6":16,"h9":26},
{"t":2014.73,"c":5.8,"l9":-24,"l6":-11,"h6":18,"h9":28},
{"t":2014.83,"c":0.4,"l9":-20,"l6":-12,"h6":12,"h9":18},
{"t":2014.94,"c":8.5,"l9":-12,"l6":-4,"h6":21,"h9":27},
{"t":2015.06,"c":0.4,"l9":-20,"l6":-12,"h6":12,"h9":18},
{"t":2015.2,"c":-31.5,"l9":-52,"l6":-44,"h6":-20,"h9":-14},
{"t":2015.29,"c":-10.5,"l9":-31,"l6":-23,"h6":2,"h9":8},
{"t":2015.43,"c":-5,"l9":-25,"l6":-17,"h6":7,"h9":13},
{"t":2015.58,"c":-1.5,"l9":-22,"l6":-14,"h6":11,"h9":17},
{"t":2015.67,"c":-1.5,"l9":-22,"l6":-14,"h6":11,"h9":17},
{"t":2015.79,"c":-16,"l9":-36,"l6":-28,"h6":-4,"h9":2},
{"t":2015.86,"c":-26,"l9":-46,"l6":-38,"h6":-14,"h9":-8},
{"t":2015.95,"c":-14,"l9":-34,"l6":-26,"h6":-2,"h9":4},
{"t":2016.07,"c":-13,"l9":-33,"l6":-25,"h6":-1,"h9":5},
{"t":2016.18,"c":-31.5,"l9":-52,"l6":-44,"h6":-20,"h9":-14},
{"t":2016.28,"c":-41.5,"l9":-64,"l6":-54,"h6":-30,"h9":-24},
{"t":2016.38,"c":-28.7,"l9":-49,"l6":-41,"h6":-17,"h9":-11},
{"t":2016.49,"c":-23,"l9":-43,"l6":-35,"h6":-11,"h9":-5},
{"t":2016.63,"c":-11.5,"l9":-32,"l6":-24,"h6":1,"h9":7},
{"t":2016.74,"c":-16,"l9":-36,"l6":-28,"h6":-4,"h9":2},
{"t":2016.84,"c":-23,"l9":-43,"l6":-35,"h6":-11,"h9":-5},
{"t":2016.94,"c":-6,"l9":-26,"l6":-18,"h6":6,"h9":12},
{"t":2017.05,"c":-16,"l9":-36,"l6":-28,"h6":-4,"h9":2},
{"t":2017.16,"c":-3.3,"l9":-23,"l6":-15,"h6":9,"h9":15},
{"t":2017.3,"c":8.5,"l9":-12,"l6":-4,"h6":21,"h9":27},
{"t":2017.4,"c":1.3,"l9":-19,"l6":-11,"h6":13,"h9":19},
{"t":2017.54,"c":-8.7,"l9":-29,"l6":-21,"h6":3,"h9":9},
{"t":2017.68,"c":-14,"l9":-34,"l6":-26,"h6":-2,"h9":4},
{"t":2017.78,"c":-24,"l9":-44,"l6":-36,"h6":-12,"h9":-6},
{"t":2017.89,"c":-20.5,"l9":-41,"l6":-33,"h6":-9,"h9":-3},
{"t":2018.03,"c":-28.7,"l9":-49,"l6":-41,"h6":-17,"h9":-11},
{"t":2018.15,"c":-20.5,"l9":-41,"l6":-33,"h6":-9,"h9":-3},
{"t":2018.24,"c":-23,"l9":-43,"l6":-35,"h6":-11,"h9":-5},
{"t":2018.38,"c":-17.8,"l9":-38,"l6":-30,"h6":-6,"h9":0},
{"t":2018.48,"c":-16,"l9":-36,"l6":-28,"h6":-4,"h9":2},
{"t":2018.62,"c":-20.5,"l9":-41,"l6":-33,"h6":-9,"h9":-3},
{"t":2018.74,"c":-16,"l9":-36,"l6":-28,"h6":-4,"h9":2},
{"t":2018.88,"c":-24,"l9":-44,"l6":-36,"h6":-12,"h9":-6},
{"t":2018.99,"c":-11.5,"l9":-32,"l6":-24,"h6":1,"h9":7},
{"t":2019.09,"c":-38.7,"l9":-59,"l6":-51,"h6":-27,"h9":-21},
{"t":2019.18,"c":-25,"l9":-45,"l6":-37,"h6":-13,"h9":-7},
{"t":2019.3,"c":-18.7,"l9":-39,"l6":-31,"h6":-7,"h9":-1},
{"t":2019.44,"c":-16,"l9":-36,"l6":-28,"h6":-4,"h9":2},
{"t":2019.51,"c":-11.5,"l9":-32,"l6":-24,"h6":1,"h9":7},
{"t":2019.65,"c":-19.6,"l9":-40,"l6":-32,"h6":-8,"h9":-2},
{"t":2019.83,"c":-21.5,"l9":-42,"l6":-34,"h6":-10,"h9":-4},
{"t":2019.97,"c":-28.7,"l9":-49,"l6":-41,"h6":-17,"h9":-11},
{"t":2020.11,"c":-28.7,"l9":-49,"l6":-41,"h6":-17,"h9":-11},
{"t":2020.21,"c":5.8,"l9":-14,"l6":-6,"h6":18,"h9":24},
{"t":2020.31,"c":7.6,"l9":-12,"l6":-4,"h6":20,"h9":26},
{"t":2020.42,"c":23,"l9":3,"l6":11,"h6":30,"h9":40},
{"t":2020.49,"c":-3.3,"l9":-23,"l6":-15,"h6":9,"h9":15},
{"t":2020.59,"c":-17.8,"l9":-38,"l6":-30,"h6":-6,"h9":0},
{"t":2020.7,"c":-36,"l9":-56,"l6":-48,"h6":-24,"h9":-18},
{"t":2020.81,"c":-38.7,"l9":-59,"l6":-51,"h6":-27,"h9":-21},
{"t":2020.91,"c":-43,"l9":-63,"l6":-55,"h6":-31,"h9":-25},
{"t":2021.05,"c":-42.4,"l9":-62,"l6":-54,"h6":-30,"h9":-24},
{"t":2021.15,"c":-38.7,"l9":-59,"l6":-51,"h6":-27,"h9":-21},
{"t":2021.26,"c":-27,"l9":-47,"l6":-39,"h6":-15,"h9":-9},
{"t":2021.38,"c":-15,"l9":-35,"l6":-27,"h6":-3,"h9":3},
{"t":2021.47,"c":-23,"l9":-43,"l6":-35,"h6":-11,"h9":-5},
{"t":2021.61,"c":-30.5,"l9":-51,"l6":-43,"h6":-19,"h9":-13},
{"t":2021.75,"c":-28.7,"l9":-49,"l6":-41,"h6":-17,"h9":-11},
{"t":2021.9,"c":-24,"l9":-44,"l6":-36,"h6":-12,"h9":-6},
{"t":2022.0,"c":-23,"l9":-43,"l6":-35,"h6":-11,"h9":-5}
]
},
"layer": [
{"data": {"name": "contrib"}, "mark": {"type": "area", "color": "#efefef", "clip": true},
 "encoding": {"x": {"field": "t", "type": "quantitative", "title": null, "scale": {"domain": [1975, 2022], "nice": false, "zero": false}},
  "y": {"field": "l9", "type": "quantitative", "title": "%", "scale": {"domain": [-150, 150], "nice": false}}, "y2": {"field": "h9"}}},
{"data": {"name": "contrib"}, "mark": {"type": "area", "color": "#cdcdcd", "clip": true},
 "encoding": {"x": {"field": "t", "type": "quantitative", "title": null}, "y": {"field": "l6", "type": "quantitative", "title": "%"}, "y2": {"field": "h6"}}},
{"data": {"name": "events"}, "mark": {"type": "rule", "color": "#7f7f7f", "strokeWidth": 1.5},
 "encoding": {"x": {"field": "t", "type": "quantitative", "title": null}}},
{"data": {"name": "price"}, "mark": {"type": "line", "strokeWidth": 2.2, "clip": true},
 "encoding": {"x": {"field": "t", "type": "quantitative", "title": null}, "y": {"field": "p", "type": "quantitative", "title": "%"},
  "color": {"datum": "Real oil price", "scale": {"domain": ["Real oil price", "Contribution oil supply news"], "range": ["#0c0c3a", "#1a1a1a"]},
   "legend": {"title": null, "orient": "bottom-right", "offset": 10, "fillColor": "white", "strokeColor": "#555555", "padding": 1, "labelFont": "Liberation Serif", "labelFontSize": 26, "labelColor": "#222222", "labelLimit": 500, "labelOffset": 4, "symbolType": "stroke", "symbolSize": 900, "symbolStrokeWidth": 2, "rowPadding": 0}},
  "strokeDash": {"datum": "Real oil price", "scale": {"domain": ["Real oil price", "Contribution oil supply news"], "range": [[2, 2], [1, 0]]}}}},
{"data": {"name": "contrib"}, "mark": {"type": "line", "strokeWidth": 1.6, "clip": true},
 "encoding": {"x": {"field": "t", "type": "quantitative", "title": null}, "y": {"field": "c", "type": "quantitative", "title": "%"},
  "color": {"datum": "Contribution oil supply news"}, "strokeDash": {"datum": "Contribution oil supply news"}}},
{"data": {"name": "labels"}, "mark": {"type": "text", "align": "left", "baseline": "alphabetic", "font": "Liberation Serif", "fontSize": 20, "color": "#262626", "lineBreak": "\n", "lineHeight": 23},
 "encoding": {"x": {"field": "lx", "type": "quantitative", "title": null}, "y": {"datum": 130, "type": "quantitative", "title": "%"}, "text": {"field": "txt"}}}
]
}
